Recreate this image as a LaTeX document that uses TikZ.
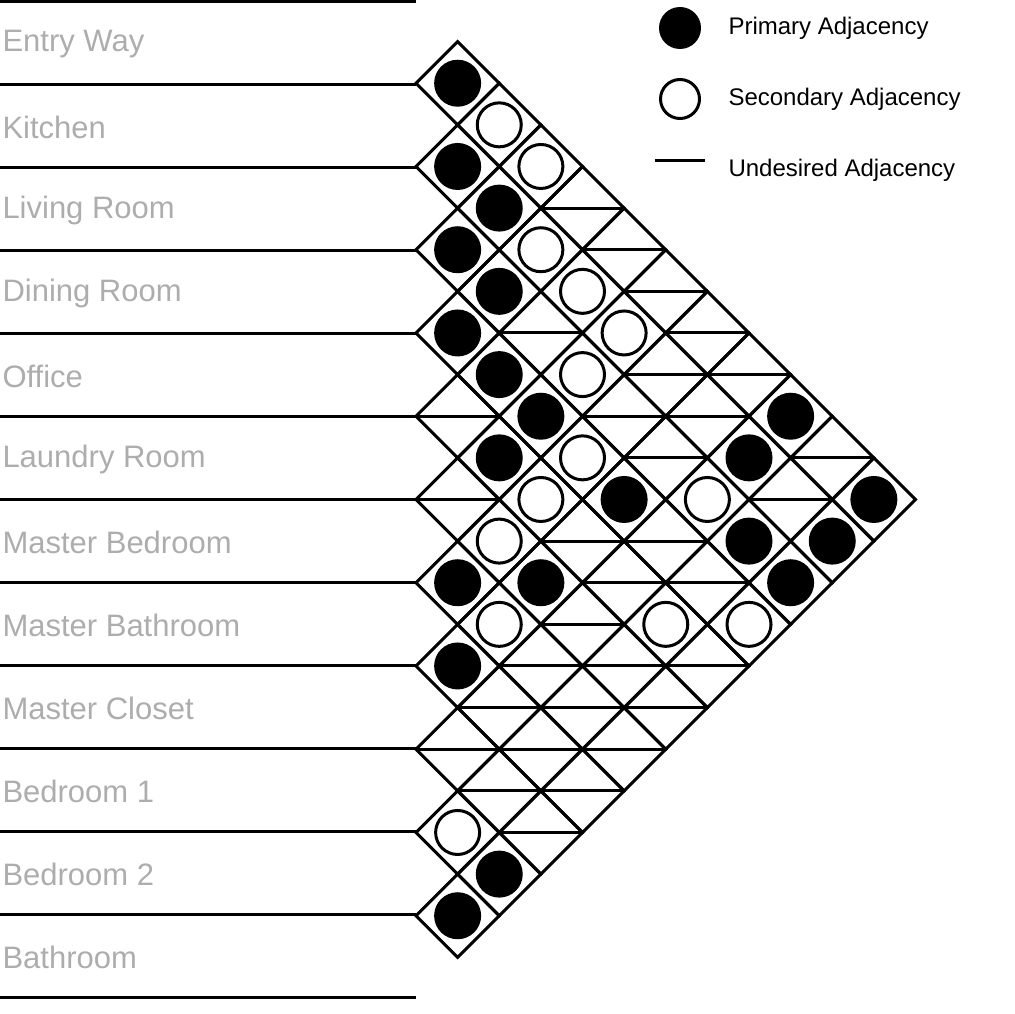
\documentclass[tikz,border=0pt]{standalone}
\usepackage{fontspec}
\setmainfont{Liberation Sans}
\begin{document}
\begin{tikzpicture}[x=1pt,y=-1pt,line width=3pt,
  lbl/.style={anchor=west,text=black!32,font=\fontsize{31}{31}\selectfont,inner sep=0pt},
  leg/.style={anchor=west,font=\fontsize{24}{24}\selectfont,inner sep=0pt},
  pcirc/.style={fill=black,draw=none},
  scirc/.style={fill=white,draw=black,line width=3pt}]
\useasboundingbox (0,0) rectangle (1014,1014);
\def\h{41.625}
% row lines
\foreach \n in {0,...,12}{\draw (0,{1.5+83.0*\n}) -- (416,{1.5+83.0*\n});}
% labels
\foreach \t [count=\c from 0] in {Entry Way,Kitchen,Living Room,Dining Room,Office,Laundry Room,Master Bedroom,Master Bathroom,Master Closet,Bedroom 1,Bedroom 2,Bathroom}
  \node[lbl] (L\c) at (1,{44+83.0*\c}) {\t};
% grid diamonds
\foreach \i in {0,...,10}{
  \pgfmathtruncatemacro\jmin{\i+1}
  \foreach \j in {\jmin,...,11}{
    \pgfmathsetmacro\cx{416+\h*(\j-\i)}
    \pgfmathsetmacro\cy{41.6+\h*(\i+\j)}
    \draw[line join=miter] (\cx-\h,\cy) -- (\cx,\cy-\h) -- (\cx+\h,\cy) -- (\cx,\cy+\h) -- cycle;
  }}
% primary
\foreach \k/\s in {1/1,1/3,1/5,1/7,1/13,1/15,1/21,2/4,2/6,2/8,2/10,2/20,3/9,3/13,5/11,8/10,8/12,9/9,9/13,10/12,11/11}
  \fill ({416+\h*\k},{41.6+\h*\s}) circle (23.5);
% secondary
\foreach \k/\s in {1/19,2/2,2/12,2/14,3/3,3/5,3/11,4/6,4/8,4/10,5/7,6/14,7/11,8/14}
  \draw[fill=white] ({416+\h*\k},{41.6+\h*\s}) circle (22);
% undesired
\foreach \k/\s in {1/9,1/11,1/17,2/16,2/18,3/7,3/15,3/17,3/19,4/4,4/12,4/14,4/16,4/18,5/5,5/9,5/13,5/15,5/17,6/6,6/8,6/10,6/12,6/16,7/7,7/9,7/13,7/15,8/8,9/11,10/10}
  \draw ({416+\h*(\k-1)},{41.6+\h*\s}) -- ({416+\h*(\k+1)},{41.6+\h*\s});
% legend
\fill (680,28) circle (21);
\node[leg] (p) at (727,28) {Primary Adjacency};
\draw (680,99) circle (19.5);
\node[leg] (s) at (727,99) {Secondary Adjacency};
\coordinate (u1) at (655,160); \coordinate (u2) at (705,160);
\draw (u1) -- (u2);
\node[leg] (u) at (727,170) {Undesired Adjacency};
\end{tikzpicture}
\end{document}
